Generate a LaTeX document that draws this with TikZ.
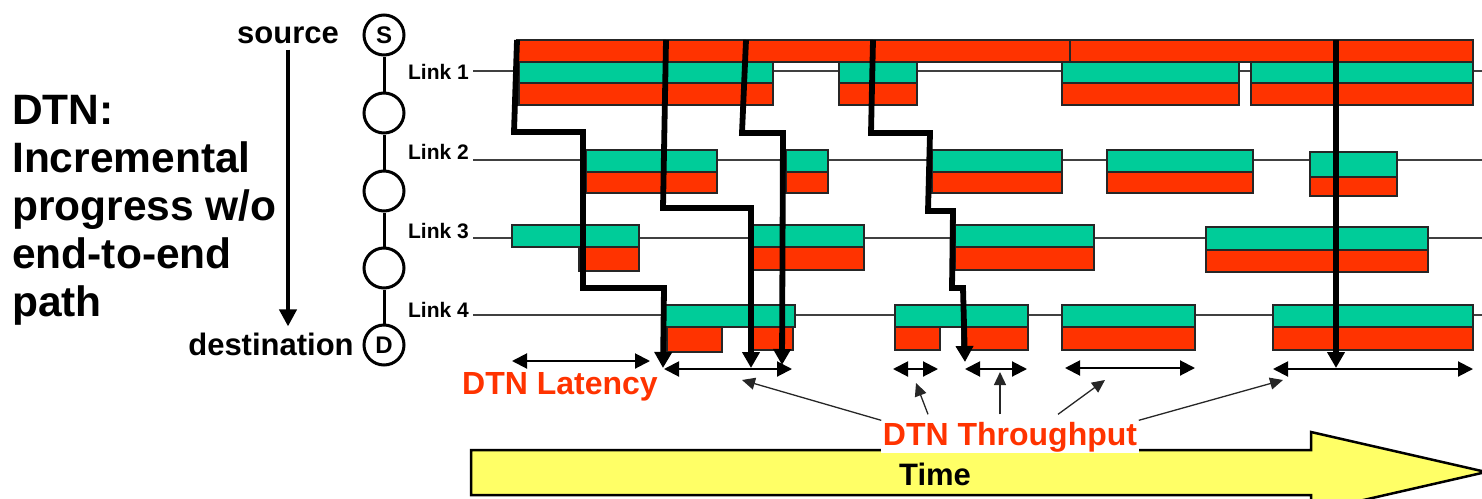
\documentclass[tikz,border=0pt]{standalone}
\usepackage{fontspec}
\setmainfont{Liberation Sans}
\usetikzlibrary{arrows.meta}
\definecolor{dtnred}{HTML}{FF3300}
\definecolor{dtngreen}{HTML}{00CC99}
\definecolor{dtnyellow}{HTML}{FFFF66}
\begin{document}
\begin{tikzpicture}[x=1pt, y=-1pt,
  hop/.style={circle, draw, line width=3pt, minimum size=40pt, inner sep=0pt,
              font=\fontsize{24}{24}\selectfont\bfseries},
  lbl/.style={font=\fontsize{31}{31}\selectfont\bfseries, inner sep=0pt},
  linklbl/.style={font=\fontsize{21}{21}\selectfont\bfseries, inner sep=4pt, anchor=east},
  linkline/.style={draw=black!75, line width=1.4pt},
  gbar/.style={fill=dtngreen, draw=black!85, line width=1.3pt},
  rbar/.style={fill=dtnred, draw=black!85, line width=1.3pt},
  bundle/.style={line width=5.8pt, -{Triangle[length=16pt, width=17pt]}},
  span/.style={line width=2pt, {Triangle[length=15pt, width=15pt]}-{Triangle[length=15pt, width=15pt]}},
  ptr/.style={line width=1.3pt, draw=black!85, -{Triangle[length=13pt, width=12pt]}},
  note/.style={font=\fontsize{32}{32}\selectfont\bfseries, text=dtnred}
]
\useasboundingbox (0,0) rectangle (1482,498);

\node[font=\fontsize{42.5}{48}\selectfont\bfseries, align=left, anchor=north west, inner sep=0pt]
  (title) at (12,95) {DTN:\\Incremental\\progress w/o\\end-to-end\\path};

\node[hop] (S) at (384,35) {S};
\node[hop] (n1) at (384,113) {};
\node[hop] (n2) at (384,191) {};
\node[hop] (n3) at (384,268) {};
\node[hop] (D) at (384,345) {D};
\draw[line width=3pt] (S) -- (n1) -- (n2) -- (n3) -- (D);

\node[lbl] (src) at (288,35) {source};
\node[lbl] (dst) at (271,344) {destination};
\draw[line width=4pt, -{Triangle[length=17pt, width=17pt]}, shorten <=6pt, shorten >=6pt]
  (src.south) -- (src.south |- dst.north);

\node[linklbl] (k1) at (473,72) {Link 1};
\node[linklbl] (k2) at (473,152) {Link 2};
\node[linklbl] (k3) at (473,231) {Link 3};
\node[linklbl] (k4) at (473,310) {Link 4};
\draw[linkline] (k1.east |- 0,71) -- (1482,71);
\draw[linkline] (k2.east |- 0,160) -- (1482,160);
\draw[linkline] (k3.east |- 0,238) -- (1482,238);
\draw[linkline] (k4.east |- 0,315) -- (1482,315);

\draw[rbar] (517,40) rectangle (665,62) (665,40) rectangle (747,62) (747,40) rectangle (873,62)
  (873,40) rectangle (1070,62) (1070,40) rectangle (1473,62);
\draw[gbar] (519,62) rectangle (773,83) (839,62) rectangle (917,83) (1062,62) rectangle (1239,83)
  (1251,62) rectangle (1473,83);
\draw[rbar] (519,83) rectangle (773,105) (839,83) rectangle (917,105) (1062,83) rectangle (1239,105)
  (1251,83) rectangle (1473,105);

\draw[gbar] (586,150) rectangle (717,172) (786,150) rectangle (828,172) (932,150) rectangle (1062,172)
  (1107,150) rectangle (1253,172) (1310,152) rectangle (1397,177);
\draw[rbar] (586,172) rectangle (717,193) (786,172) rectangle (828,193) (932,172) rectangle (1062,193)
  (1107,172) rectangle (1253,193) (1310,177) rectangle (1397,196);

\draw[rbar] (579,247) rectangle (639,271) (753,247) rectangle (864,270) (955,247) rectangle (1094,270)
  (1206,250) rectangle (1428,272);
\draw[gbar] (512,225) rectangle (639,247) (753,225) rectangle (864,247) (955,225) rectangle (1094,247)
  (1206,227) rectangle (1428,250);

\draw[gbar] (663,305) rectangle (795,327) (895,305) rectangle (1028,327) (1062,305) rectangle (1195,327)
  (1273,305) rectangle (1473,327);
\draw[rbar] (667,327) rectangle (722,352) (753,327) rectangle (793,350) (895,327) rectangle (940,350)
  (962,327) rectangle (1028,350) (1062,327) rectangle (1195,350) (1273,327) rectangle (1473,350);

\draw[bundle] (517,40) -- (514,132) -- (583,132) -- (583,288) -- (664,288) -- (663,368);
\draw[bundle] (666,40) -- (663,208) -- (751,208) -- (751,368);
\draw[bundle] (746,40) -- (742,133) -- (783,133) -- (782,365);
\draw[bundle] (873,40) -- (871,133) -- (930,133) -- (928,211) -- (953,211) -- (952,288)
  -- (963,288) -- (965,362);
\draw[bundle] (1336,40) -- (1336,368);

\draw[span] (512,361) -- (650,361);
\draw[span] (664,369) -- (792,369);
\draw[span] (893,369) -- (938,369);
\draw[span] (965,369) -- (1027,369);
\draw[span] (1065,368) -- (1195,368);
\draw[span] (1273,369) -- (1473,369);

\node[note] (lat) at (560,387) {DTN Latency};

\draw[fill=dtnyellow, line width=2.5pt, line join=miter]
  (471,450) -- (1311,450) -- (1311,432) -- (1486,472) -- (1311,512) -- (1311,495) -- (471,495) -- cycle;
\node[lbl] (time) at (935,474) {Time};

\node[note, fill=white, inner sep=1.5pt] (tput) at (1010,437) {DTN Throughput};
\draw[ptr] (tput.north west) -- (742,380);
\draw[ptr] ([xshift=-82pt,yshift=6pt]tput.north) -- (916,383);
\draw[ptr] ([xshift=-10pt,yshift=6pt]tput.north) -- (1000,372);
\draw[ptr] ([xshift=48pt,yshift=6pt]tput.north) -- (1105,380);
\draw[ptr] (tput.north east) -- (1283,380);
\end{tikzpicture}
\end{document}
